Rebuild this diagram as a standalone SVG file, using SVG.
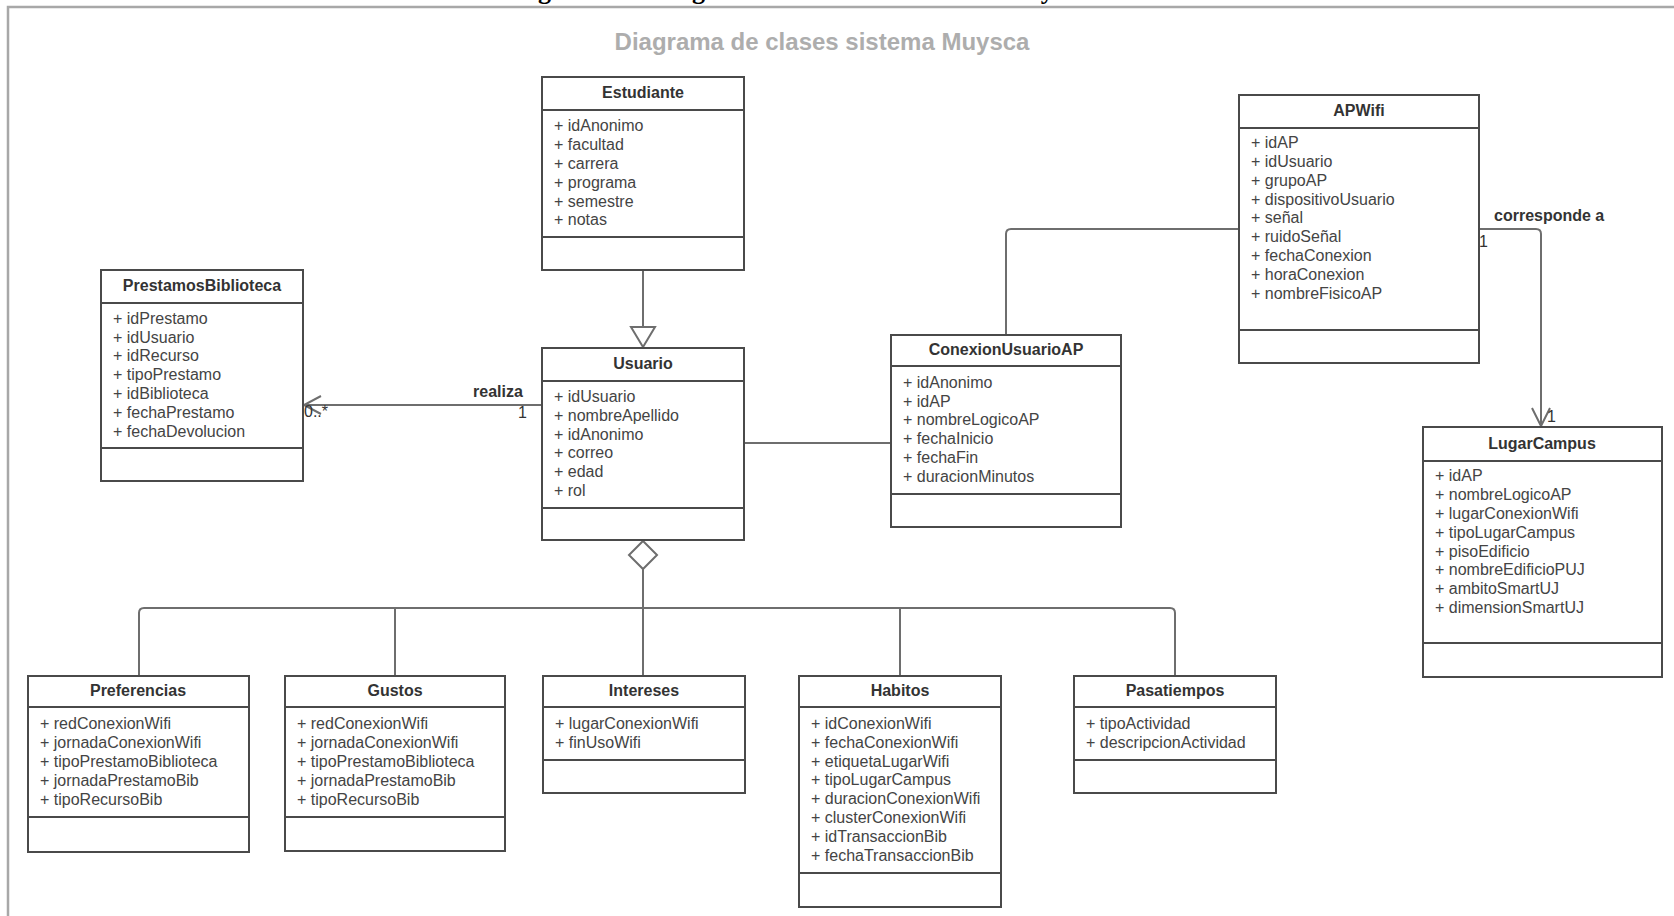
<svg xmlns="http://www.w3.org/2000/svg" width="1674" height="916" viewBox="0 0 1674 916">
<style>
.box{fill:#fff;stroke:#4a4a4a;stroke-width:2}
.sep{stroke:#4a4a4a;stroke-width:2}
.t{font-family:"Liberation Sans",Arial,sans-serif;font-size:16px;font-weight:bold;fill:#333;text-anchor:middle}
.a{font-family:"Liberation Sans",Arial,sans-serif;font-size:16px;fill:#444}
.c{fill:none;stroke:#6e6e6e;stroke-width:2}
.lb{font-family:"Liberation Sans",Arial,sans-serif;font-size:16px;font-weight:bold;fill:#333}
.lm{font-family:"Liberation Sans",Arial,sans-serif;font-size:16px;fill:#333}
</style>
<rect width="1674" height="916" fill="#fff"/>
<text font-family="'Liberation Serif','Times New Roman',serif" font-size="26" font-weight="bold" fill="#000" y="-1"><tspan x="515">Figura</tspan><tspan x="653">Diagrama de clases del sistema Muysca</tspan></text>
<path d="M8,916 V7 H1674" fill="none" stroke="#a8a8a8" stroke-width="2.5"/>
<text x="822" y="50" font-family="'Liberation Sans',Arial,sans-serif" font-size="24" font-weight="bold" fill="#adadad" text-anchor="middle">Diagrama de clases sistema Muysca</text>

<g id="connectors">
<path class="c" d="M643,270 V327"/>
<polygon points="643,347 631,327 655,327" fill="#fff" stroke="#6e6e6e" stroke-width="2"/>
<path class="c" d="M542,405 H304"/>
<path class="c" d="M321,396 L304,405 L321,414"/>
<text class="lb" x="498" y="397" text-anchor="middle">realiza</text>
<text class="lm" x="304" y="417">0..*</text>
<text class="lm" x="518" y="418">1</text>
<path class="c" d="M744,443 H891"/>
<path class="c" d="M1239,229 H1011 Q1006,229 1006,234 V335"/>
<path class="c" d="M1479,229 H1536 Q1541,229 1541,234 V426"/>
<path class="c" d="M1532,408 L1541,426 L1550,408"/>
<text class="lb" x="1494" y="221">corresponde a</text>
<text class="lm" x="1479" y="247">1</text>
<text class="lm" x="1547" y="422">1</text>
<polygon points="643,541 657,555 643,569 629,555" fill="#fff" stroke="#6e6e6e" stroke-width="2"/>
<path class="c" d="M643,569 V676"/>
<path class="c" d="M139,676 V613 Q139,608 144,608 H1170 Q1175,608 1175,613 V676"/>
<path class="c" d="M395,608 V676"/>
<path class="c" d="M900,608 V676"/>
</g>

<g id="Estudiante">
<rect class="box" x="542" y="77" width="202" height="193"/>
<path class="sep" d="M542,110 H744 M542,237 H744"/>
<text class="t" x="643" y="98">Estudiante</text>
<text class="a" x="554"><tspan x="554" y="131">+ idAnonimo</tspan><tspan x="554" y="150">+ facultad</tspan><tspan x="554" y="169">+ carrera</tspan><tspan x="554" y="188">+ programa</tspan><tspan x="554" y="207">+ semestre</tspan><tspan x="554" y="225">+ notas</tspan></text>
</g>

<g id="Usuario">
<rect class="box" x="542" y="348" width="202" height="192"/>
<path class="sep" d="M542,381 H744 M542,508 H744"/>
<text class="t" x="643" y="369">Usuario</text>
<text class="a"><tspan x="554" y="402">+ idUsuario</tspan><tspan x="554" y="421">+ nombreApellido</tspan><tspan x="554" y="440">+ idAnonimo</tspan><tspan x="554" y="458">+ correo</tspan><tspan x="554" y="477">+ edad</tspan><tspan x="554" y="496">+ rol</tspan></text>
</g>

<g id="PrestamosBiblioteca">
<rect class="box" x="101" y="270" width="202" height="211"/>
<path class="sep" d="M101,303 H303 M101,448 H303"/>
<text class="t" x="202" y="291">PrestamosBiblioteca</text>
<text class="a"><tspan x="113" y="324">+ idPrestamo</tspan><tspan x="113" y="343">+ idUsuario</tspan><tspan x="113" y="361">+ idRecurso</tspan><tspan x="113" y="380">+ tipoPrestamo</tspan><tspan x="113" y="399">+ idBiblioteca</tspan><tspan x="113" y="418">+ fechaPrestamo</tspan><tspan x="113" y="437">+ fechaDevolucion</tspan></text>
</g>

<g id="APWifi">
<rect class="box" x="1239" y="95" width="240" height="268"/>
<path class="sep" d="M1239,128 H1479 M1239,330 H1479"/>
<text class="t" x="1359" y="116">APWifi</text>
<text class="a"><tspan x="1251" y="148">+ idAP</tspan><tspan x="1251" y="167">+ idUsuario</tspan><tspan x="1251" y="186">+ grupoAP</tspan><tspan x="1251" y="205">+ dispositivoUsuario</tspan><tspan x="1251" y="223">+ señal</tspan><tspan x="1251" y="242">+ ruidoSeñal</tspan><tspan x="1251" y="261">+ fechaConexion</tspan><tspan x="1251" y="280">+ horaConexion</tspan><tspan x="1251" y="299">+ nombreFisicoAP</tspan></text>
</g>

<g id="ConexionUsuarioAP">
<rect class="box" x="891" y="335" width="230" height="192"/>
<path class="sep" d="M891,366 H1121 M891,494 H1121"/>
<text class="t" x="1006" y="355">ConexionUsuarioAP</text>
<text class="a"><tspan x="903" y="388">+ idAnonimo</tspan><tspan x="903" y="407">+ idAP</tspan><tspan x="903" y="425">+ nombreLogicoAP</tspan><tspan x="903" y="444">+ fechaInicio</tspan><tspan x="903" y="463">+ fechaFin</tspan><tspan x="903" y="482">+ duracionMinutos</tspan></text>
</g>

<g id="LugarCampus">
<rect class="box" x="1423" y="427" width="239" height="250"/>
<path class="sep" d="M1423,461 H1662 M1423,643 H1662"/>
<text class="t" x="1542" y="449">LugarCampus</text>
<text class="a"><tspan x="1435" y="481">+ idAP</tspan><tspan x="1435" y="500">+ nombreLogicoAP</tspan><tspan x="1435" y="519">+ lugarConexionWifi</tspan><tspan x="1435" y="538">+ tipoLugarCampus</tspan><tspan x="1435" y="557">+ pisoEdificio</tspan><tspan x="1435" y="575">+ nombreEdificioPUJ</tspan><tspan x="1435" y="594">+ ambitoSmartUJ</tspan><tspan x="1435" y="613">+ dimensionSmartUJ</tspan></text>
</g>

<g id="Preferencias">
<rect class="box" x="28" y="676" width="221" height="176"/>
<path class="sep" d="M28,707 H249 M28,817 H249"/>
<text class="t" x="138" y="696">Preferencias</text>
<text class="a"><tspan x="40" y="729">+ redConexionWifi</tspan><tspan x="40" y="748">+ jornadaConexionWifi</tspan><tspan x="40" y="767">+ tipoPrestamoBiblioteca</tspan><tspan x="40" y="786">+ jornadaPrestamoBib</tspan><tspan x="40" y="805">+ tipoRecursoBib</tspan></text>
</g>

<g id="Gustos">
<rect class="box" x="285" y="676" width="220" height="175"/>
<path class="sep" d="M285,707 H505 M285,817 H505"/>
<text class="t" x="395" y="696">Gustos</text>
<text class="a"><tspan x="297" y="729">+ redConexionWifi</tspan><tspan x="297" y="748">+ jornadaConexionWifi</tspan><tspan x="297" y="767">+ tipoPrestamoBiblioteca</tspan><tspan x="297" y="786">+ jornadaPrestamoBib</tspan><tspan x="297" y="805">+ tipoRecursoBib</tspan></text>
</g>

<g id="Intereses">
<rect class="box" x="543" y="676" width="202" height="117"/>
<path class="sep" d="M543,707 H745 M543,760 H745"/>
<text class="t" x="644" y="696">Intereses</text>
<text class="a"><tspan x="555" y="729">+ lugarConexionWifi</tspan><tspan x="555" y="748">+ finUsoWifi</tspan></text>
</g>

<g id="Habitos">
<rect class="box" x="799" y="676" width="202" height="231"/>
<path class="sep" d="M799,707 H1001 M799,873 H1001"/>
<text class="t" x="900" y="696">Habitos</text>
<text class="a"><tspan x="811" y="729">+ idConexionWifi</tspan><tspan x="811" y="748">+ fechaConexionWifi</tspan><tspan x="811" y="767">+ etiquetaLugarWifi</tspan><tspan x="811" y="785">+ tipoLugarCampus</tspan><tspan x="811" y="804">+ duracionConexionWifi</tspan><tspan x="811" y="823">+ clusterConexionWifi</tspan><tspan x="811" y="842">+ idTransaccionBib</tspan><tspan x="811" y="861">+ fechaTransaccionBib</tspan></text>
</g>

<g id="Pasatiempos">
<rect class="box" x="1074" y="676" width="202" height="117"/>
<path class="sep" d="M1074,707 H1276 M1074,760 H1276"/>
<text class="t" x="1175" y="696">Pasatiempos</text>
<text class="a"><tspan x="1086" y="729">+ tipoActividad</tspan><tspan x="1086" y="748">+ descripcionActividad</tspan></text>
</g>
</svg>
